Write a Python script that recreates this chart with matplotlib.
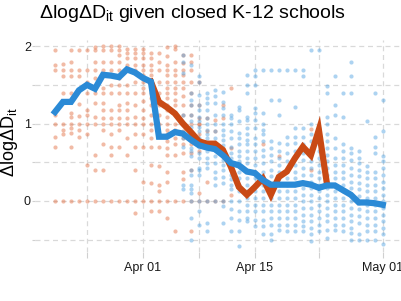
import matplotlib
matplotlib.use('Agg')
import matplotlib.pyplot as plt
import matplotlib.dates as mdates
import numpy as np

plt.rcParams['font.family'] = 'Liberation Sans'
plt.rcParams['mathtext.fontset'] = 'custom'
plt.rcParams['mathtext.rm'] = 'Liberation Sans'
plt.rcParams['mathtext.it'] = 'Liberation Sans:italic'

# 平均線
blue_line_start = '2020-03-21'
blue_line = [1.15, 1.28, 1.28, 1.43, 1.50, 1.45, 1.63, 1.62, 1.60, 1.70, 1.66, 1.59, 1.54,
             0.83, 0.83, 0.89, 0.87, 0.79, 0.72, 0.69, 0.67, 0.59, 0.49, 0.46, 0.38, 0.36,
             0.27, 0.21, 0.21, 0.21, 0.21, 0.23, 0.21, 0.17, 0.20, 0.20, 0.14, 0.08, -0.02,
             -0.02, -0.03, -0.05]
orange_line_start = '2020-04-02'
orange_line = [1.54, 1.28, 1.21, 1.13, 1.00, 0.89, 0.77, 0.74, 0.74, 0.66, 0.44, 0.18, 0.08,
               0.18, 0.29, 0.08, 0.31, 0.38, 0.55, 0.70, 0.59, 0.92, 0.23]

# 各日的點
orange_pts = {
    '2020-03-21': [1.95, 1.76, 1.69, 1.11, 1.00, 0.83, 0.70, 0.00],
    '2020-03-22': [1.77, 1.69, 1.62, 1.39, 1.00, 0.92, 0.86, 0.00],
    '2020-03-23': [1.95, 1.80, 1.69, 1.62, 1.39, 1.14, 1.09, 1.00, 0.94, 0.88, 0.70, 0.00],
    '2020-03-24': [1.95, 1.69, 1.62, 1.25, 1.10, 1.00, 0.92, 0.83, 0.00],
    '2020-03-25': [1.95, 1.69, 1.54, 1.39, 1.18, 1.11, 1.00, 0.86, 0.47, 0.00],
    '2020-03-26': [1.99, 1.95, 1.80, 1.69, 1.59, 1.39, 1.26, 1.09, 1.00, 0.60, 0.40, 0.00],
    '2020-03-27': [2.00, 1.95, 1.80, 1.69, 1.63, 1.46, 1.39, 1.26, 1.18, 1.07, 1.00, 0.92, 0.73, 0.40, 0.00],
    '2020-03-28': [2.00, 1.95, 1.80, 1.69, 1.63, 1.50, 1.39, 1.18, 1.07, 1.00, 0.86, 0.70, 0.60, 0.00],
    '2020-03-29': [2.00, 1.95, 1.89, 1.80, 1.69, 1.59, 1.50, 1.39, 1.24, 1.18, 1.07, 1.00, 0.92, 0.70, 0.00],
    '2020-03-30': [1.97, 1.91, 1.85, 1.76, 1.69, 1.50, 1.39, 1.26, 1.18, 1.07, 1.00, 0.81, 0.60, 0.00],
    '2020-03-31': [1.97, 1.91, 1.85, 1.76, 1.69, 1.54, 1.39, 1.24, 1.09, 1.00, 0.86, 0.70, 0.40, 0.00, -0.15],
    '2020-04-01': [1.97, 1.91, 1.85, 1.76, 1.69, 1.63, 1.54, 1.46, 1.39, 1.29, 1.18, 1.07, 1.00, 0.86, 0.70, 0.25, 0.00],
    '2020-04-02': [1.91, 1.85, 1.76, 1.69, 1.63, 1.54, 1.46, 1.39, 1.33, 1.24, 1.11, 1.00, 0.92, 0.81, 0.70, 0.47, 0.23, 0.00, -0.13],
    '2020-04-03': [1.91, 1.80, 1.69, 1.54, 1.39, 1.24, 1.11, 1.00, 0.86, 0.70, 0.45, 0.21, 0.13, 0.00, -0.13],
    '2020-04-04': [1.99, 1.87, 1.76, 1.69, 1.63, 1.54, 1.46, 1.39, 1.33, 1.24, 1.18, 1.09, 1.00, 0.92, 0.86, 0.77, 0.68, 0.60, 0.38, 0.25, 0.00, -0.22],
    '2020-04-05': [2.00, 1.97, 1.80, 1.69, 1.63, 1.54, 1.46, 1.39, 1.31, 1.24, 1.11, 1.00, 0.92, 0.81, 0.73, 0.60, 0.00, -0.39],
    '2020-04-06': [1.89, 1.78, 1.69, 1.63, 1.54, 1.46, 1.35, 1.24, 1.11, 1.00, 0.90, 0.81, 0.73, 0.62, 0.38, 0.28, 0.00],
    '2020-04-07': [1.89, 1.80, 1.69, 1.54, 1.39, 1.24, 1.11, 1.00, 0.86, 0.73, 0.62, 0.40, 0.00, -0.39],
    '2020-04-08': [1.54, 1.24, 1.07, 1.00, 0.99, 0.86, 0.64, 0.10, 0.00],
    '2020-04-09': [1.07, 0.90, 0.73, 0.25, 0.00],
    '2020-04-10': [1.05, 0.90, 0.00],
    '2020-04-11': [1.24, 1.07, 0.00],
    '2020-04-12': [1.46, 0.68, 0.08],
    '2020-04-16': [0.73],
    '2020-04-18': [0.58],
    '2020-04-22': [0.93, 0.40],
}
blue_pts = {
    '2020-04-06': [1.89, 1.80, 1.65, 1.11, 0.99, 0.81, 0.70, 0.21, 0.15],
    '2020-04-07': [1.76, 1.39, 1.31, 1.24, 1.11, 1.03, 0.96, 0.88, 0.81, 0.77, 0.68, 0.64, 0.58, 0.40, 0.34, 0.21, 0.15, 0.10, 0.00, -0.22, -0.50],
    '2020-04-08': [1.61, 1.54, 1.37, 1.24, 1.18, 1.09, 1.03, 0.96, 0.90, 0.81, 0.70, 0.62, 0.55, 0.43, 0.40, 0.34, 0.00, -0.13, -0.31],
    '2020-04-09': [1.39, 1.33, 1.26, 1.18, 1.07, 0.99, 0.92, 0.86, 0.81, 0.73, 0.64, 0.55, 0.49, 0.43, 0.00, -0.28, -0.39],
    '2020-04-10': [1.44, 1.35, 1.26, 1.11, 1.00, 0.90, 0.81, 0.73, 0.66, 0.58, 0.49, 0.38, 0.30, 0.21, 0.00],
    '2020-04-11': [1.41, 1.28, 1.20, 1.11, 1.00, 0.92, 0.85, 0.79, 0.72, 0.66, 0.59, 0.53, 0.46, 0.40, 0.31, 0.23, 0.00, -0.07, -0.29],
    '2020-04-12': [1.11, 1.07, 0.99, 0.90, 0.81, 0.70, 0.62, 0.55, 0.47, 0.40, 0.34, 0.28, 0.21, 0.15, 0.00, -0.11, -0.22, -0.39],
    '2020-04-13': [1.22, 1.18, 1.03, 0.88, 0.81, 0.73, 0.64, 0.58, 0.51, 0.45, 0.38, 0.30, 0.21, 0.13, 0.00, -0.13, -0.24, -0.39, -0.58],
    '2020-04-14': [1.63, 1.50, 1.39, 1.09, 1.05, 0.94, 0.86, 0.79, 0.73, 0.64, 0.55, 0.49, 0.38, 0.30, 0.21, 0.13, 0.04, -0.05, -0.13, -0.22, -0.26],
    '2020-04-15': [1.69, 1.61, 1.50, 1.20, 1.14, 1.05, 0.94, 0.81, 0.73, 0.64, 0.55, 0.47, 0.38, 0.30, 0.21, 0.13, 0.04, -0.05, -0.13, -0.24, -0.33],
    '2020-04-16': [1.69, 1.14, 0.99, 0.92, 0.86, 0.77, 0.66, 0.58, 0.49, 0.38, 0.30, 0.21, 0.13, 0.04, -0.05, -0.13, -0.24, -0.33, -0.43],
    '2020-04-17': [1.69, 1.31, 0.77, 0.68, 0.60, 0.51, 0.40, 0.32, 0.21, 0.13, 0.04, -0.05, -0.13, -0.22, -0.31, -0.43, -0.50],
    '2020-04-18': [1.69, 1.31, 1.11, 0.75, 0.64, 0.55, 0.47, 0.38, 0.30, 0.21, 0.13, 0.04, -0.05, -0.13, -0.22, -0.31, -0.37],
    '2020-04-19': [1.69, 0.83, 0.73, 0.62, 0.51, 0.40, 0.30, 0.21, 0.13, 0.04, -0.05, -0.13, -0.22, -0.31, -0.39],
    '2020-04-20': [1.69, 1.22, 0.94, 0.83, 0.75, 0.64, 0.55, 0.47, 0.38, 0.30, 0.21, 0.13, 0.04, -0.05, -0.13, -0.22, -0.31, -0.39],
    '2020-04-21': [1.69, 1.61, 0.94, 0.83, 0.73, 0.62, 0.53, 0.43, 0.34, 0.25, 0.17, 0.08, 0.00, -0.09, -0.18, -0.26, -0.33, -0.39],
    '2020-04-22': [1.95, 0.99, 0.86, 0.77, 0.68, 0.60, 0.51, 0.43, 0.34, 0.25, 0.17, 0.08, 0.00, -0.09, -0.18, -0.26, -0.35, -0.43, -0.52],
    '2020-04-23': [1.95, 0.94, 0.81, 0.73, 0.64, 0.55, 0.47, 0.38, 0.30, 0.21, 0.13, 0.04, -0.05, -0.13, -0.22, -0.31, -0.39],
    '2020-04-24': [1.48, 1.39, 1.09, 0.99, 0.86, 0.77, 0.68, 0.60, 0.51, 0.43, 0.34, 0.25, 0.17, 0.08, 0.00, -0.09, -0.18, -0.26, -0.37, -0.48],
    '2020-04-25': [1.61, 1.24, 1.11, 0.81, 0.68, 0.55, 0.47, 0.38, 0.30, 0.21, 0.13, 0.04, -0.05, -0.13, -0.22, -0.31, -0.37],
    '2020-04-26': [1.39, 1.09, 0.73, 0.64, 0.55, 0.47, 0.38, 0.30, 0.21, 0.13, 0.04, -0.05, -0.13, -0.22, -0.31, -0.39],
    '2020-04-27': [1.80, 1.61, 1.39, 0.68, 0.62, 0.53, 0.43, 0.34, 0.25, 0.17, 0.08, 0.00, -0.09, -0.18, -0.26, -0.35, -0.41, -0.50],
    '2020-04-28': [0.64, 0.55, 0.49, 0.40, 0.32, 0.23, 0.15, 0.06, -0.03, -0.11, -0.20, -0.28, -0.43, -0.50],
    '2020-04-29': [1.03, 0.45, 0.38, 0.30, 0.21, 0.13, 0.04, -0.05, -0.13, -0.22, -0.31, -0.39, -0.50],
    '2020-04-30': [1.39, 0.83, 0.70, 0.62, 0.38, 0.30, 0.21, 0.13, 0.04, -0.05, -0.13, -0.22, -0.31, -0.39, -0.50],
    '2020-05-01': [1.31, 0.90, 0.58, 0.51, 0.43, 0.34, 0.25, 0.17, 0.08, 0.00, -0.09, -0.18, -0.26, -0.35, -0.43, -0.56],
}

major_ticks = ['2020-04-01', '2020-04-15', '2020-05-01']
minor_ticks = ['2020-03-25', '2020-04-08', '2020-04-23']

orange = '#C94A15'
blue = '#2B8AD6'
orange_dot = '#E2683A'
blue_dot = '#4A9FE0'


def flatten(pts):
    xs, ys = [], []
    for d, vals in pts.items():
        xs += [np.datetime64(d)] * len(vals)
        ys += vals
    return np.array(xs), np.array(ys)


fig = plt.figure(figsize=(4.01, 3.01), dpi=100)
ax = fig.add_axes([35 / 401, 49 / 301, 375 / 401, 212 / 301])

ox, oy = flatten(orange_pts)
bx, by = flatten(blue_pts)
ax.scatter(ox, oy, s=9, color=orange_dot, alpha=0.45, linewidths=0, zorder=2)
ax.scatter(bx, by, s=9, color=blue_dot, alpha=0.45, linewidths=0, zorder=2)

od = np.datetime64(orange_line_start) + np.arange(len(orange_line))
bd = np.datetime64(blue_line_start) + np.arange(len(blue_line))
ax.plot(od, orange_line, color=orange, lw=4.5, solid_joinstyle='miter', zorder=3)
ax.plot(bd, blue_line, color=blue, lw=4.5, solid_joinstyle='miter', zorder=4)

x0 = mdates.date2num(np.datetime64('2020-04-01'))
ax.set_xlim(x0 - 13.5, x0 + 33.4)
ax.set_ylim(-0.66, 2.08)

ax.set_xticks([np.datetime64(d) for d in major_ticks])
ax.set_xticks([np.datetime64(d) for d in minor_ticks], minor=True)
ax.xaxis.set_major_formatter(mdates.DateFormatter('%b %d'))
ax.set_yticks([0, 1, 2])
ax.set_yticks([-0.5, 0.5, 1.5], minor=True)
ax.set_yticklabels(['0', '1', '2'])

ax.grid(which='both', linestyle=(0, (4, 3)), color='#d9d9d9', lw=0.9)
ax.set_axisbelow(True)
for s in ax.spines.values():
    s.set_visible(False)
ax.tick_params(axis='x', which='both', color='#d0d0d0', length=4, width=0.8,
               labelsize=9, labelcolor='#1a1a1a', pad=3)
ax.tick_params(axis='y', which='both', color='#d0d0d0', length=2, width=0.8,
               labelsize=9, labelcolor='#1a1a1a', pad=1)

fig.text(39 / 401, 1 - 18 / 301, 'ΔlogΔD$_{\\mathrm{it}}$ given closed K-12 schools',
         fontsize=14, va='baseline', ha='left')
fig.text(9 / 401, 1 - 142 / 301, 'ΔlogΔD$_{\\mathrm{it}}$', rotation=90,
         fontsize=13, ha='center', va='center')

plt.savefig('out.png', dpi=100)
